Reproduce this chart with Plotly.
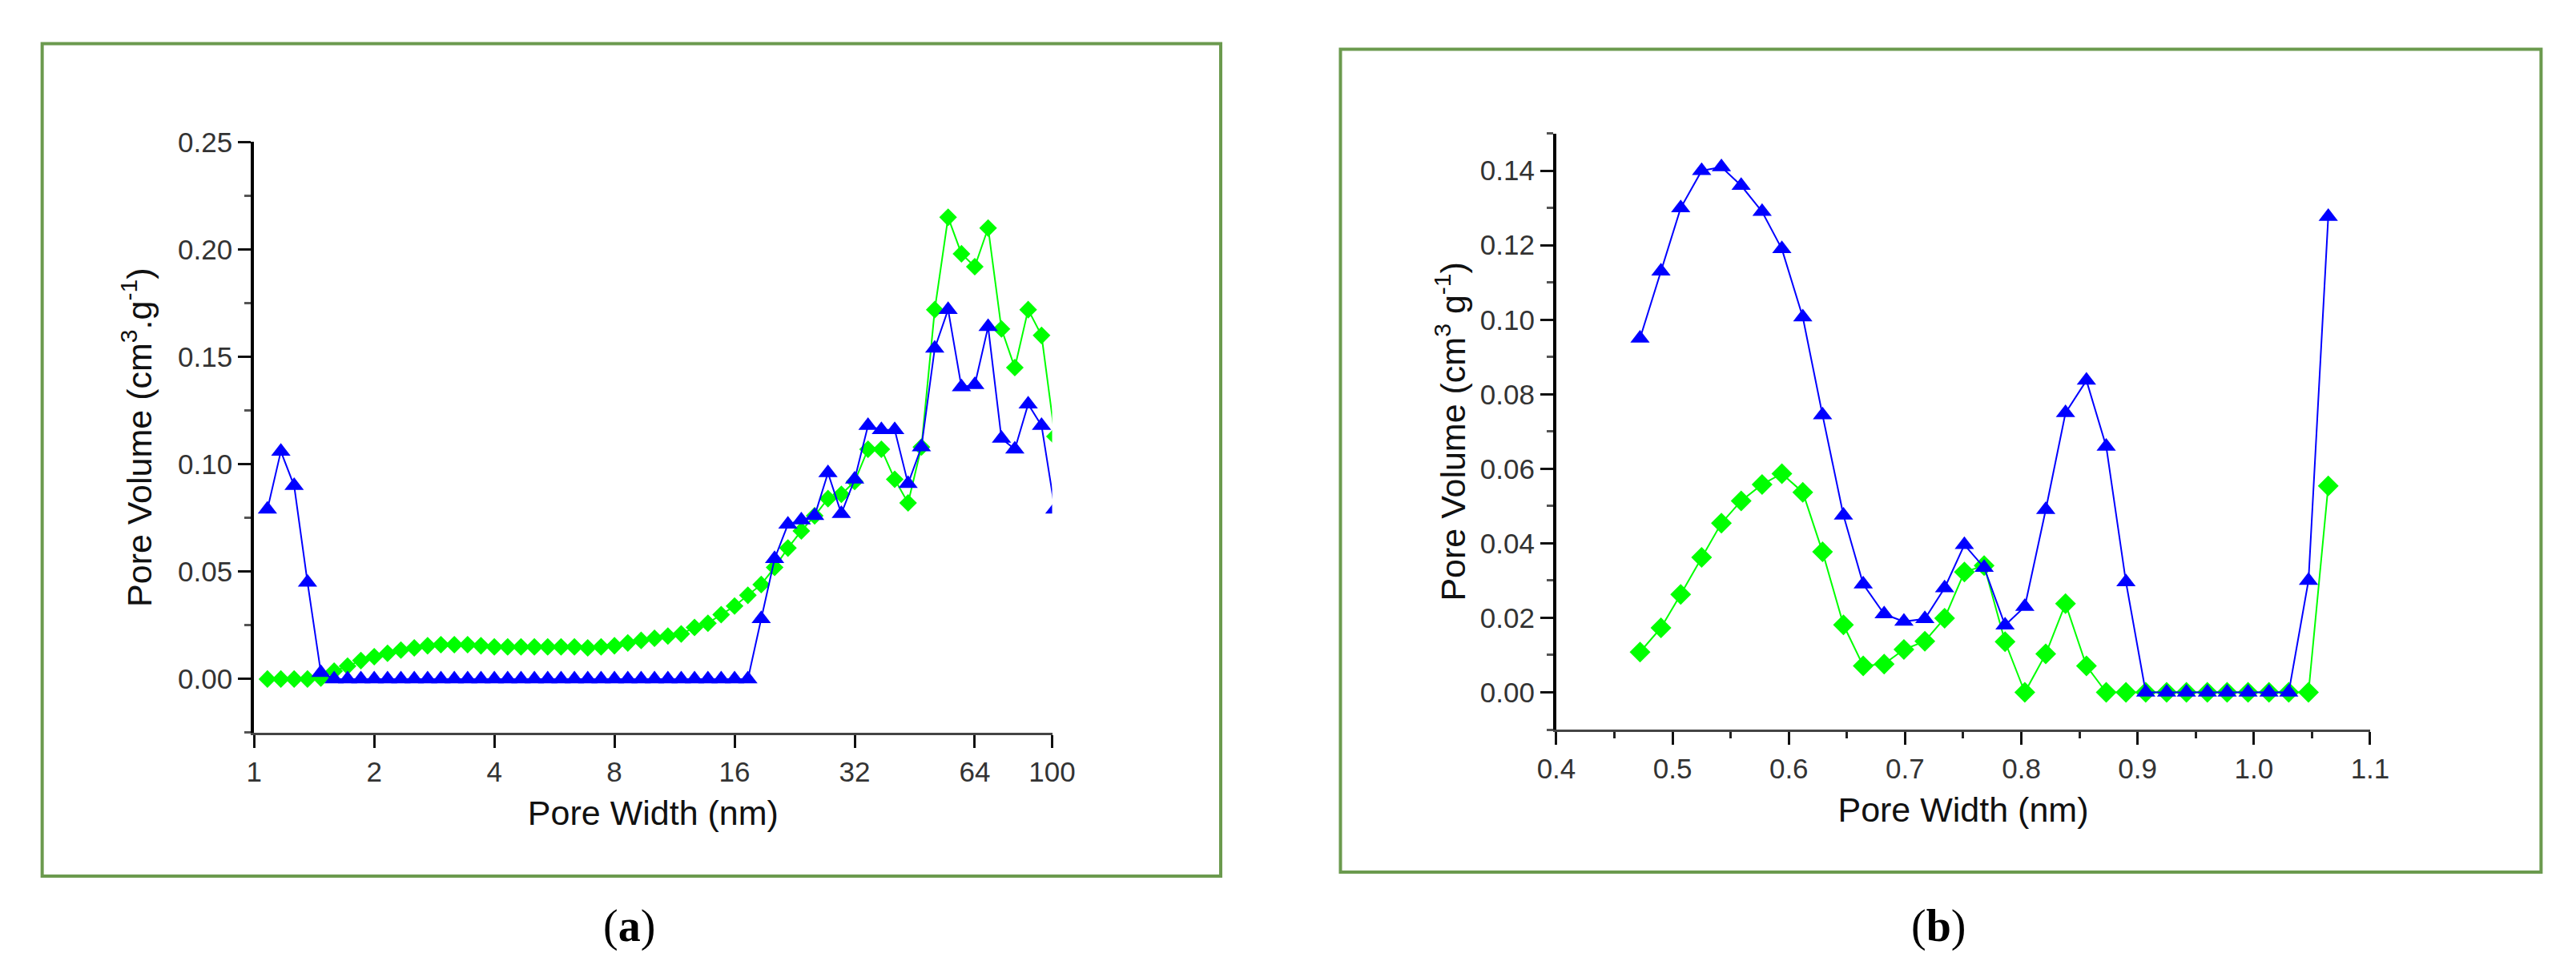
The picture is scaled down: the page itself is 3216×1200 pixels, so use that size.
import plotly.graph_objects as go

# panel (a): pore size distribution, log x axis (nm)
pore_width_a = [1.080, 1.167, 1.260, 1.361, 1.470, 1.587, 1.715, 1.852, 2.000, 2.160,
                2.333, 2.520, 2.722, 2.939, 3.175, 3.429, 3.703, 4.000, 4.320, 4.666,
                5.040, 5.443, 5.879, 6.350, 6.858, 7.407, 8.000, 8.641, 9.332, 10.08,
                10.89, 11.76, 12.70, 13.72, 14.81, 16.00, 17.28, 18.66, 20.16, 21.77,
                23.52, 25.40, 27.43, 29.63, 32.00, 34.56, 37.33, 40.32, 43.55, 47.03,
                50.80, 54.87, 59.26, 64.00, 69.12, 74.66, 80.63, 87.09, 94.07, 101.6]

volume_a_green = [0, 0, 0, 0, 0.0005, 0.0037, 0.006, 0.0086, 0.0104, 0.012,
                  0.0135, 0.0145, 0.0155, 0.016, 0.016, 0.016, 0.0155, 0.015, 0.015, 0.015,
                  0.015, 0.015, 0.015, 0.015, 0.0145, 0.015, 0.0155, 0.0168, 0.018, 0.019,
                  0.020, 0.021, 0.024, 0.026, 0.030, 0.034, 0.039, 0.044, 0.052, 0.061,
                  0.069, 0.076, 0.084, 0.086, 0.092, 0.107, 0.107, 0.093, 0.082, 0.108,
                  0.172, 0.215, 0.198, 0.192, 0.210, 0.163, 0.145, 0.172, 0.160, 0.113]

volume_a_blue = [0.079, 0.106, 0.090, 0.045, 0.003, 0, 0, 0, 0, 0,
                 0, 0, 0, 0, 0, 0, 0, 0, 0, 0,
                 0, 0, 0, 0, 0, 0, 0, 0, 0, 0,
                 0, 0, 0, 0, 0, 0, 0, 0.028, 0.056, 0.072,
                 0.074, 0.076, 0.096, 0.077, 0.093, 0.118, 0.116, 0.116, 0.091, 0.108,
                 0.154, 0.172, 0.136, 0.137, 0.164, 0.112, 0.107, 0.128, 0.118, 0.079]

x_ticks_a = [1, 2, 4, 8, 16, 32, 64, 100]

# panel (b): micropore region, linear x axis (nm)
pore_width_b = [0.472, 0.490, 0.507, 0.525, 0.542, 0.559, 0.577, 0.594, 0.612, 0.629,
                0.647, 0.664, 0.682, 0.699, 0.717, 0.734, 0.751, 0.768, 0.786, 0.803,
                0.821, 0.838, 0.856, 0.873, 0.890, 0.907, 0.925, 0.942, 0.960, 0.977,
                0.995, 1.013, 1.030, 1.047, 1.064]

volume_b_green = [0.0108, 0.0173, 0.0263, 0.0362, 0.0454, 0.0514, 0.0558, 0.0587, 0.0537, 0.0377,
                  0.0181, 0.0071, 0.0076, 0.0115, 0.0137, 0.0199, 0.0323, 0.0340, 0.0136, 0,
                  0.0103, 0.0238, 0.0071, 0, 0, 0, 0, 0, 0, 0,
                  0, 0, 0, 0, 0.0554]

volume_b_blue = [0.095, 0.113, 0.130, 0.140, 0.141, 0.136, 0.129, 0.119, 0.1007, 0.0744,
                 0.0475, 0.029, 0.021, 0.019, 0.0197, 0.028, 0.0396, 0.0335, 0.018, 0.023,
                 0.049, 0.075, 0.0837, 0.066, 0.0296, 0, 0, 0, 0, 0,
                 0, 0, 0, 0.030, 0.1277]

W, H = 3216, 1200
GREEN = "#00ff00"
BLUE = "#0000ff"
FRAME = "#6b9a4e"
tick_font = dict(family="Liberation Sans, Arial, sans-serif", size=35, color="#333333")
title_font = dict(family="Liberation Sans, Arial, sans-serif", size=43, color="#111111")


def dom_x(a, b):
    return [a / W, b / W]


def dom_y(top, bottom):
    return [1 - bottom / H, 1 - top / H]


fig = go.Figure()

fig.add_trace(go.Scatter(x=pore_width_a, y=volume_a_green, mode="lines+markers",
                         line=dict(color=GREEN, width=2),
                         marker=dict(symbol="diamond", size=17, color=GREEN),
                         xaxis="x", yaxis="y", showlegend=False))
fig.add_trace(go.Scatter(x=pore_width_a, y=volume_a_blue, mode="lines+markers",
                         line=dict(color=BLUE, width=2),
                         marker=dict(symbol="triangle-up", size=21, color=BLUE),
                         xaxis="x", yaxis="y", showlegend=False))
fig.add_trace(go.Scatter(x=pore_width_b, y=volume_b_green, mode="lines+markers",
                         line=dict(color=GREEN, width=2),
                         marker=dict(symbol="diamond", size=20, color=GREEN),
                         xaxis="x2", yaxis="y2", showlegend=False))
fig.add_trace(go.Scatter(x=pore_width_b, y=volume_b_blue, mode="lines+markers",
                         line=dict(color=BLUE, width=2),
                         marker=dict(symbol="triangle-up", size=21, color=BLUE),
                         xaxis="x2", yaxis="y2", showlegend=False))

axis_common = dict(showgrid=False, zeroline=False, showline=True, ticks="outside",
                   tickfont=tick_font, ticklen=16, tickwidth=3, tickcolor="#111111")

fig.update_layout(
    width=W, height=H,
    margin=dict(l=0, r=0, t=0, b=0),
    paper_bgcolor="white", plot_bgcolor="white",
    xaxis=dict(axis_common, domain=dom_x(290, 1303), anchor="y", type="log",
               range=[0, 2], tickvals=x_ticks_a, ticktext=[str(v) for v in x_ticks_a],
               linecolor="#444444", linewidth=3,
               title=dict(text="Pore Width (nm)", font=title_font, standoff=18)),
    yaxis=dict(axis_common, domain=dom_y(152, 902), anchor="x",
               range=[-0.025, 0.25], dtick=0.05, tick0=0, tickformat=".2f",
               linecolor="#000000", linewidth=4,
               minor=dict(dtick=0.025, tick0=0, ticks="outside", ticklen=8,
                          tickwidth=3, tickcolor="#555555"),
               title=dict(text="Pore Volume (cm<sup>3</sup>.g<sup>-1</sup>)",
                          font=title_font, standoff=20)),
    xaxis2=dict(axis_common, domain=dom_x(1943, 2976), anchor="y2",
                range=[0.4, 1.1], dtick=0.1, tick0=0.4, tickformat=".1f",
                linecolor="#444444", linewidth=3,
                minor=dict(dtick=0.05, tick0=0.4, ticks="outside", ticklen=8,
                           tickwidth=3, tickcolor="#222222"),
                title=dict(text="Pore Width (nm)", font=title_font, standoff=18)),
    yaxis2=dict(axis_common, domain=dom_y(141, 898), anchor="x2",
                range=[-0.01, 0.15], dtick=0.02, tick0=0, tickformat=".2f",
                linecolor="#000000", linewidth=4,
                minor=dict(dtick=0.01, tick0=0, ticks="outside", ticklen=8,
                           tickwidth=3, tickcolor="#555555"),
                title=dict(text="Pore Volume (cm<sup>3</sup> g<sup>-1</sup>)",
                           font=title_font, standoff=6)),
    shapes=[
        dict(type="rect", xref="paper", yref="paper",
             x0=21 / W, x1=1517 / W, y0=1 - 1084 / H, y1=1 - 27 / H,
             line=dict(color=FRAME, width=4)),
        dict(type="rect", xref="paper", yref="paper",
             x0=1669 / W, x1=3193 / W, y0=1 - 1079 / H, y1=1 - 34 / H,
             line=dict(color=FRAME, width=4)),
    ],
    annotations=[
        dict(text="(<b>a</b>)", x=766 / W, y=1 - 1148 / H, xref="paper", yref="paper",
             showarrow=False, xanchor="center", yanchor="middle",
             font=dict(family="Liberation Serif, serif", size=56, color="black")),
        dict(text="(<b>b</b>)", x=2428 / W, y=1 - 1148 / H, xref="paper", yref="paper",
             showarrow=False, xanchor="center", yanchor="middle",
             font=dict(family="Liberation Serif, serif", size=56, color="black")),
    ],
)

fig.write_html("out.html")
